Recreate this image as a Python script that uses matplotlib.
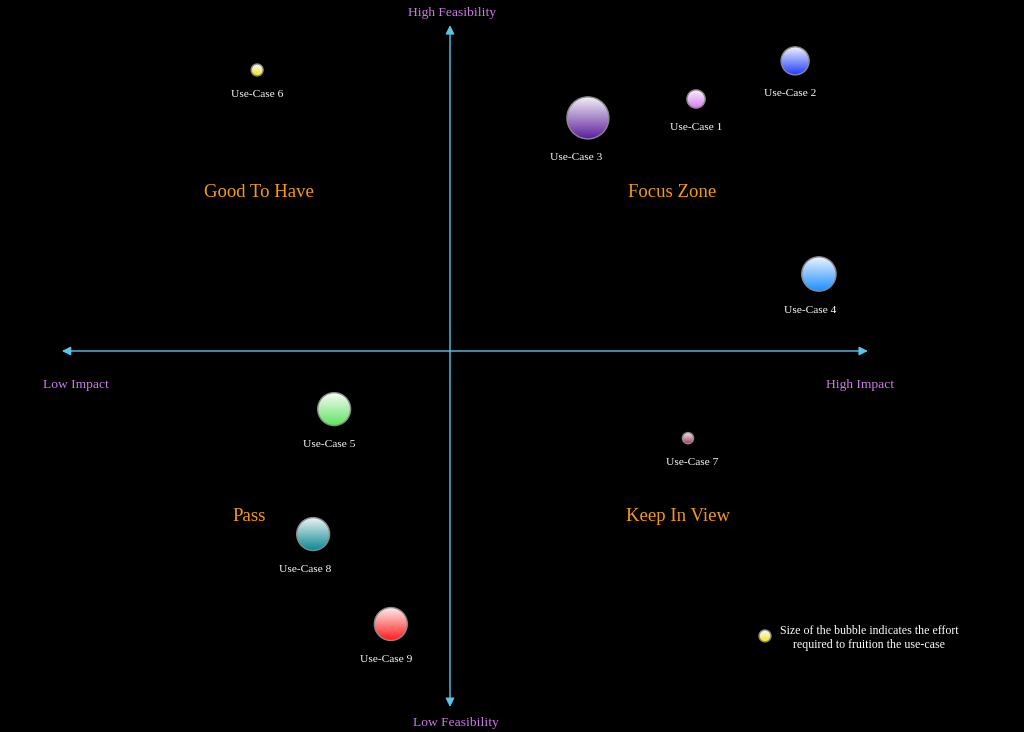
import numpy as np
import matplotlib
matplotlib.use("Agg")
import matplotlib.pyplot as plt
from matplotlib.patches import Circle
from matplotlib.colors import to_rgb

# impact (x) / feasibility (y) / effort (bubble radius), all in chart units
use_cases = ["Use-Case 1", "Use-Case 2", "Use-Case 3", "Use-Case 4", "Use-Case 5",
             "Use-Case 6", "Use-Case 7", "Use-Case 8", "Use-Case 9"]
impact = [7.03, 9.86, 3.94, 10.54, -3.31, -5.51, 6.80, -3.91, -1.69]
feasibility = [7.20, 8.29, 6.66, 2.20, -1.66, 8.03, -2.49, -5.23, -7.80]
effort = [0.26, 0.40, 0.60, 0.49, 0.47, 0.17, 0.16, 0.47, 0.47]
colors = ["#d77ff0", "#1f3cff", "#5c1f9c", "#1f8fff", "#5fe25f",
          "#f2e21c", "#9c3c5c", "#0f8a92", "#ff1f1f"]
# small horizontal nudges of the labels (pixels)
label_dx = [0, -5, -12, -9, -5, 0, 4, -8, -5]

quadrants = ["Good To Have", "Focus Zone", "Pass", "Keep In View"]
quad_x = [-5.46, 6.34, -5.74, 6.51]
quad_y = [4.54, 4.54, -4.72, -4.72]

FONT = ["Liberation Serif", "DejaVu Serif"]
AXIS_C = "#5cc6ea"
LABEL_C = "#cc7ae6"
QUAD_C = "#f39a1e"


def bubble(ax, x, y, r, color):
    c = np.array(to_rgb(color))
    top = 0.92 * np.ones(3) + 0.08 * c
    t = np.linspace(0, 1, 64)[:, None]
    grad = (1 - t) * top + t * c
    img = ax.imshow(grad[:, None, :], extent=[x - r, x + r, y - r, y + r],
                    origin="upper", interpolation="bilinear", zorder=3)
    clip = Circle((x, y), r, transform=ax.transData, facecolor="none")
    img.set_clip_path(clip)
    ax.add_patch(Circle((x, y), r, facecolor="none", edgecolor="#8a8a8a",
                        lw=1.0, zorder=4))


def main():
    plt.rcParams["font.family"] = FONT
    fig = plt.figure(figsize=(10.24, 7.32), dpi=100, facecolor="black")
    ax = fig.add_axes([0, 0, 1, 1])
    ax.set_facecolor("black")
    ax.set_axis_off()

    # axes arrows
    ax.annotate("", xy=(11.94, 0), xytext=(-11.09, 0),
                arrowprops=dict(arrowstyle="<|-|>", color=AXIS_C, lw=1.0,
                                mutation_scale=13, shrinkA=0, shrinkB=0))
    ax.annotate("", xy=(0, 9.31), xytext=(0, -10.17),
                arrowprops=dict(arrowstyle="<|-|>", color=AXIS_C, lw=1.0,
                                mutation_scale=13, shrinkA=0, shrinkB=0))

    ax.text(0.06, 9.65, "High Feasibility", color=LABEL_C, fontsize=9.7,
            ha="center", va="center")
    ax.text(0.17, -10.63, "Low Feasibility", color=LABEL_C, fontsize=9.7,
            ha="center", va="center")
    ax.text(-10.69, -0.97, "Low Impact", color=LABEL_C, fontsize=9.7,
            ha="center", va="center")
    ax.text(11.71, -0.97, "High Impact", color=LABEL_C, fontsize=9.7,
            ha="center", va="center")

    for name, qx, qy in zip(quadrants, quad_x, quad_y):
        ax.text(qx, qy, name, color=QUAD_C, fontsize=13.5, ha="center", va="center")

    for name, x, y, r, col, dx in zip(use_cases, impact, feasibility, effort,
                                      colors, label_dx):
        bubble(ax, x, y, r, col)
        off = -(r * 35 + 19) * 0.72
        ax.annotate(name, (x, y), xytext=(dx * 0.72, off), textcoords="offset points",
                    color="white", fontsize=8.2, ha="center", va="center")

    # legend
    bubble(ax, 9.0, -8.14, 0.17, "#f2e21c")
    ax.text(11.97, -8.19, "Size of the bubble indicates the effort\nrequired to fruition the use-case",
            color="white", fontsize=8.6, ha="center", va="center", linespacing=1.2)

    ax.set_xlim(-450 / 35, 574 / 35)
    ax.set_ylim(-381 / 35, 351 / 35)
    ax.set_aspect("auto")
    fig.savefig("out.png", dpi=100, facecolor="black")


main()
